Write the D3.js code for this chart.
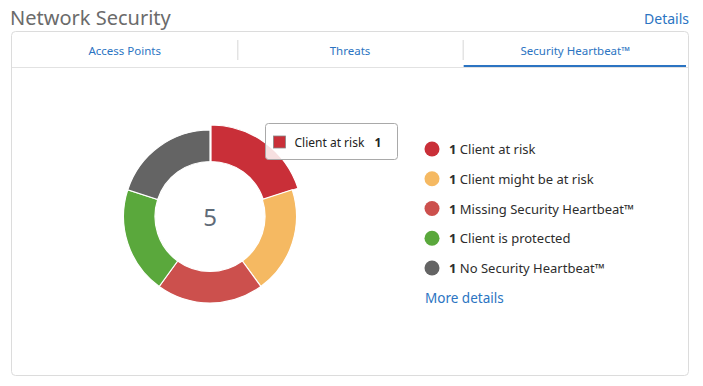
<!DOCTYPE html>
<html><head><meta charset="utf-8">
<script src="https://cdn.jsdelivr.net/npm/d3@7/dist/d3.min.js"></script>
<style>
html,body{margin:0;padding:0;background:#fff;}
svg{display:block;font-family:"Noto Sans",Lato,sans-serif;}
</style></head>
<body><svg id="c" width="703" height="386"></svg>
<script>
const categories = ["Client at risk","Client might be at risk","Missing Security Heartbeat™","Client is protected","No Security Heartbeat™"];
const values = [1,1,1,1,1];
const colors = ["#c92f38","#f5b962","#cc504d","#5aa83c","#646464"];
const tabs = ["Access Points","Threats","Security Heartbeat™"];
const hovered = 0;

const svg = d3.select("#c");
const blue = "#2b74c2";

// title
svg.append("text").attr("x",10).attr("y",25).attr("font-size",20).attr("fill","#6b6b6b").text("Network Security");
svg.append("text").attr("x",689).attr("y",24).attr("text-anchor","end").attr("font-size",14).attr("fill",blue).text("Details");

// panel
svg.append("rect").attr("x",11.5).attr("y",31.5).attr("width",677).attr("height",344).attr("rx",4)
  .attr("fill","#fff").attr("stroke","#dcdcdc");
svg.append("line").attr("x1",12).attr("x2",688).attr("y1",67.5).attr("y2",67.5).attr("stroke","#e2e2e2");

const tx = d3.scaleBand().domain(tabs).range([12,688]);
tabs.forEach((t,i)=>{
  svg.append("text").attr("x",tx(t)+tx.bandwidth()/2).attr("y",55).attr("text-anchor","middle")
    .attr("font-size",11.5).attr("fill",blue).text(t);
  if(i>0) svg.append("line").attr("x1",tx(t)+0.5).attr("x2",tx(t)+0.5).attr("y1",40).attr("y2",60).attr("stroke","#d6d6d6");
});
svg.append("rect").attr("x",tx(tabs[2])+1).attr("y",65).attr("width",tx.bandwidth()-3).attr("height",2).attr("fill",blue);

// donut
const cx=210, cy=216.5, r0=55, r1=86.5;
const pie = d3.pie().sort(null).value(d=>d)(values);
const g = svg.append("g").attr("transform",`translate(${cx},${cy})`);
g.selectAll("path").data(pie).join("path")
  .attr("d",(d,i)=>d3.arc().innerRadius(r0).outerRadius(i===hovered?r1+5:r1)(d))
  .attr("fill",(d,i)=>colors[i]).attr("stroke","#fff").attr("stroke-width",1.2)
  .attr("transform",(d,i)=>i===hovered?"translate(1,0)":null);
g.append("text").attr("y",9).attr("text-anchor","middle").attr("font-size",24).attr("fill","#5f6b78").text(d3.sum(values));

// legend
const ly = d3.scalePoint().domain(categories).range([149,268]);
const lg = svg.append("g");
categories.forEach((c,i)=>{
  const y = ly(c);
  lg.append("circle").attr("cx",432).attr("cy",y).attr("r",7.5).attr("fill",colors[i]);
  const t = lg.append("text").attr("x",449).attr("y",y+5).attr("font-size",13).attr("fill","#2d2d2d");
  t.append("tspan").attr("font-weight","bold").text(values[i]);
  t.append("tspan").text(" "+c);
});
svg.append("text").attr("x",425).attr("y",303).attr("font-size",13.5).attr("fill",blue).text("More details");

// tooltip
const tt = svg.append("g").attr("transform","translate(265.5,123.5)");
tt.append("rect").attr("width",132).attr("height",36).attr("rx",3).attr("fill","#fff").attr("fill-opacity",0.85)
  .attr("stroke","#a9a9a9");
tt.append("rect").attr("x",8).attr("y",12.5).attr("width",12).attr("height",12).attr("fill",colors[hovered]).attr("stroke","#888").attr("stroke-width",0.8);
const t2 = tt.append("text").attr("x",29).attr("y",23).attr("font-size",12).attr("fill","#222");
t2.append("tspan").text(categories[hovered]);
t2.append("tspan").attr("x",109).attr("font-weight","bold").text(values[hovered]);
</script></body></html>
